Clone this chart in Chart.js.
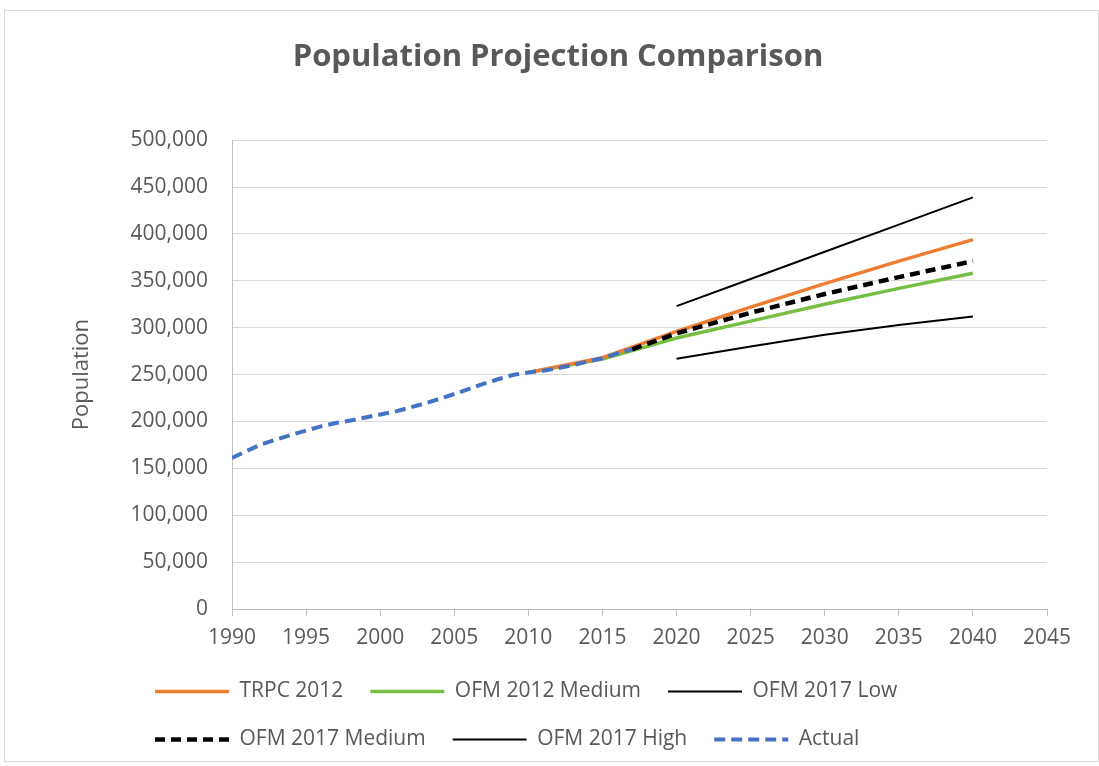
<!doctype html>
<html lang="en">
<head>
    <meta charset="utf-8">
    <title>Population Projection Comparison</title>
    <script src="https://cdn.jsdelivr.net/npm/chart.js"></script>
    <style>
        body {
            margin: 0;
            background: #fff;
        }
        .frame {
            position: absolute;
            left: 4px;
            top: 10px;
            width: 1093px;
            height: 750px;
            border: 1px solid #d9d9d9;
        }
    </style>
</head>
<body>
<div class="frame">
    <canvas id="myChart" width="1093" height="750"></canvas>
</div>

<script>
    // values
    const actualYears = [1990, 1991, 1992, 1993, 1994, 1995, 1996, 1997, 1998, 1999, 2000, 2001, 2002, 2003,
        2004, 2005, 2006, 2007, 2008, 2009, 2010, 2011, 2012, 2013, 2014, 2015, 2016, 2017];
    const actualPop = [161200, 168600, 175700, 180800, 185800, 190200, 194800, 198400, 201000, 204300, 207400,
        210500, 214800, 219200, 224100, 229300, 234700, 240400, 245300, 249800, 252300, 254100, 256800,
        260100, 264000, 267400, 272700, 276900];

    const trpcYears = [2010, 2015, 2020, 2025, 2030, 2035, 2040];
    const trpcPop = [252300, 268000, 296000, 322000, 347000, 371000, 394000];

    const ofm2012Years = [2010, 2015, 2020, 2025, 2030, 2035, 2040];
    const ofm2012Pop = [252300, 266500, 289000, 307000, 325000, 342000, 358000];

    const ofm17MedYears = [2017, 2020, 2025, 2030, 2035, 2040];
    const ofm17MedPop = [276900, 294000, 316000, 336000, 354000, 371000];

    const ofm17Years = [2020, 2025, 2030, 2035, 2040];
    const ofm17LowPop = [267000, 280000, 292500, 303000, 312000];
    const ofm17HighPop = [323000, 352000, 381000, 410000, 439000];

    const toPoints = (xs, ys) => xs.map((x, i) => ({x: x, y: ys[i]}));
    const grey = '#595959';
    const font = 'Open Sans';

    // excel puts the legend rows further left than the centred title
    const legendShift = {
        id: 'legendShift',
        afterLayout(chart) {
            chart.legend.left = 123;
        }
    };

    const ctx = document.getElementById('myChart');

    new Chart(ctx, {
        type: 'line',
        data: {
            datasets: [
                {label: 'TRPC 2012', data: toPoints(trpcYears, trpcPop), borderColor: '#ED7D31', borderWidth: 3.5, order: 3},
                {label: 'OFM 2012 Medium', data: toPoints(ofm2012Years, ofm2012Pop), borderColor: '#78BE43', borderWidth: 3.5, order: 4},
                {label: 'OFM 2017 Low', data: toPoints(ofm17Years, ofm17LowPop), borderColor: '#000', borderWidth: 2, order: 2},
                {label: 'OFM 2017 Medium', data: toPoints(ofm17MedYears, ofm17MedPop), borderColor: '#000', borderWidth: 4.5, borderDash: [10, 6], order: 1},
                {label: 'OFM 2017 High', data: toPoints(ofm17Years, ofm17HighPop), borderColor: '#000', borderWidth: 2, order: 2},
                {label: 'Actual', data: toPoints(actualYears, actualPop), borderColor: '#4472C4', borderWidth: 4, borderDash: [11, 6], order: 0}
            ]
        },
        options: {
            responsive: false,
            animation: false,
            elements: {
                point: {radius: 0},
                line: {tension: 0, fill: false}
            },
            layout: {
                padding: {left: 13, right: 0, top: 0, bottom: 1}
            },
            plugins: {
                title: {
                    display: true,
                    text: 'Population Projection Comparison',
                    color: grey,
                    font: {family: font, size: 31, weight: 'bold'},
                    padding: {top: 28, bottom: 64}
                },
                legend: {
                    position: 'bottom',
                    align: 'start',
                    labels: {
                        usePointStyle: true,
                        pointStyle: 'line',
                        pointStyleWidth: 74,
                        padding: 27,
                        color: grey,
                        font: {family: font, size: 21},
                        generateLabels: (chart) => {
                            const items = Chart.defaults.plugins.legend.labels.generateLabels(chart);
                            items.forEach(it => {
                                const ds = chart.data.datasets[it.datasetIndex];
                                it.lineDash = ds.borderDash || [];
                                it.lineWidth = ds.borderWidth;
                                it.strokeStyle = ds.borderColor;
                            });
                            return items.sort((a, b) => a.datasetIndex - b.datasetIndex);
                        }
                    }
                },
                tooltip: {enabled: false}
            },
            scales: {
                x: {
                    type: 'linear',
                    min: 1990,
                    max: 2045,
                    afterFit: (scale) => { scale.height = 45; },
                    ticks: {
                        stepSize: 5,
                        color: grey,
                        padding: 9,
                        maxRotation: 0,
                        font: {family: font, size: 21},
                        callback: (v) => String(v)
                    },
                    grid: {
                        drawOnChartArea: false,
                        drawTicks: true,
                        tickLength: 7,
                        color: '#bfbfbf'
                    },
                    border: {color: '#bfbfbf', width: 1}
                },
                y: {
                    min: 0,
                    max: 500000,
                    afterFit: (scale) => { scale.width = 214; },
                    ticks: {
                        stepSize: 50000,
                        color: grey,
                        padding: 24,
                        font: {family: font, size: 21},
                        callback: (v) => v.toLocaleString('en-US')
                    },
                    grid: {
                        color: '#d9d9d9',
                        drawTicks: false
                    },
                    border: {color: '#bfbfbf', width: 1},
                    title: {
                        display: true,
                        text: 'Population',
                        color: grey,
                        font: {family: font, size: 22},
                        padding: {top: 51, bottom: 0}
                    }
                },
                // empty right-hand strip, keeps the plot where excel had it
                yRight: {
                    position: 'right',
                    display: true,
                    afterFit: (scale) => { scale.width = 51; },
                    ticks: {display: false},
                    grid: {drawOnChartArea: false, drawTicks: false},
                    border: {display: false}
                }
            }
        },
        plugins: [legendShift]
    });
</script>
</body>
</html>
